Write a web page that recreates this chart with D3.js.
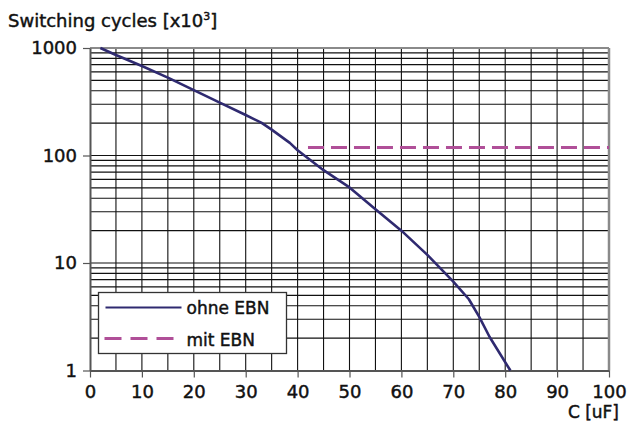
<!DOCTYPE html>
<html>
<head>
<meta charset="utf-8">
<script src="https://cdn.jsdelivr.net/npm/d3@7"></script>
<style>
  body { margin: 0; background: #fff; }
  svg text { font-family: "DejaVu Sans", sans-serif; font-weight: normal; fill: #111; stroke: #111; stroke-width: 0.45px; }
</style>
</head>
<body>
<div id="chart"></div>
<script>
// capacitance [uF] vs switching cycles [x10^3]
var ohneC = [2, 5, 10, 15, 20, 25, 30, 33, 35, 38.5, 40, 45, 50, 55, 60, 65, 70, 73, 75, 77, 81];
var ohneV = [1000, 860, 680, 530, 405, 310, 238, 202, 174, 131, 112, 73, 50.5, 31.6, 20, 11.9, 6.7, 4.6, 3.15, 2.05, 1];
var mitC = [42, 100];
var mitV = [119, 119];
var xTicks = [0, 10, 20, 30, 40, 50, 60, 70, 80, 90, 100];
var yTicks = [1, 10, 100, 1000];

var width = 633, height = 428;
var margin = {top: 48, right: 24, bottom: 58, left: 90};
var w = 609 - margin.left, h = 370.5 - margin.top;

var svg = d3.select("#chart").append("svg")
    .attr("width", width)
    .attr("height", height);

var g = svg.append("g")
    .attr("transform", "translate(" + margin.left + "," + margin.top + ")");

var x = d3.scaleLinear().domain([0, 100]).range([0, w]);
var y = d3.scaleLog().domain([1, 1000]).range([h, 0]);

// grid: vertical every 5, horizontal log minors
var vGrid = d3.range(5, 100, 5);
g.selectAll("line.vgrid").data(vGrid).enter().append("line")
    .attr("class", "vgrid")
    .attr("x1", function(d) { return x(d); })
    .attr("x2", function(d) { return x(d); })
    .attr("y1", 0).attr("y2", h)
    .attr("stroke", "#111").attr("stroke-width", 1.1);

var hGrid = [];
[1, 10, 100].forEach(function(dec) {
    for (var k = 1; k < 10; k++) hGrid.push(dec * k);
});
g.selectAll("line.hgrid").data(hGrid.filter(function(d) { return d > 1; })).enter().append("line")
    .attr("class", "hgrid")
    .attr("x1", 0).attr("x2", w)
    .attr("y1", function(d) { return y(d); })
    .attr("y2", function(d) { return y(d); })
    .attr("stroke", "#111").attr("stroke-width", 1.1);

// frame
g.append("line").attr("x1", 0).attr("x2", w).attr("y1", 0).attr("y2", 0)
    .attr("stroke", "#8a8a8a").attr("stroke-width", 2);
g.append("line").attr("x1", w).attr("x2", w).attr("y1", 0).attr("y2", h)
    .attr("stroke", "#8a8a8a").attr("stroke-width", 2.5);

// axes
var xAxis = d3.axisBottom(x).tickValues(xTicks).tickSize(7).tickSizeOuter(0).tickPadding(8);
var yAxis = d3.axisLeft(y).tickValues(yTicks).tickSize(7).tickSizeOuter(0).tickPadding(6)
    .tickFormat(d3.format("d"));

var gx = g.append("g").attr("transform", "translate(0," + h + ")").call(xAxis);
var gy = g.append("g").call(yAxis);

[gx, gy].forEach(function(a) {
    a.select(".domain").attr("stroke", "#555").attr("stroke-width", 2);
    a.selectAll(".tick line").attr("stroke", "#555").attr("stroke-width", 1.2);
    a.selectAll(".tick text").style("font-size", "18px").attr("fill", "#111");
});
gx.selectAll(".tick text").attr("dy", "0.72em");

// series
var line = d3.line()
    .x(function(d) { return x(d[0]); })
    .y(function(d) { return y(d[1]); });

g.append("path")
    .datum(d3.zip(mitC, mitV))
    .attr("d", line)
    .attr("fill", "none")
    .attr("stroke", "#b04f98")
    .attr("stroke-width", 3)
    .attr("stroke-dasharray", "16,7");

g.append("path")
    .datum(d3.zip(ohneC, ohneV))
    .attr("d", line)
    .attr("fill", "none")
    .attr("stroke", "#2f2a70")
    .attr("stroke-width", 2.6)
    .attr("stroke-linejoin", "round");

// legend
var lg = svg.append("g").attr("transform", "translate(98.5,292.5)");
lg.append("rect")
    .attr("width", 188).attr("height", 61)
    .attr("fill", "#fff").attr("stroke", "#333").attr("stroke-width", 1.3);
lg.append("line").attr("x1", 7).attr("x2", 83).attr("y1", 15).attr("y2", 15)
    .attr("stroke", "#2f2a70").attr("stroke-width", 2.2);
lg.append("line").attr("x1", 6).attr("x2", 80).attr("y1", 46).attr("y2", 46)
    .attr("stroke", "#b04f98").attr("stroke-width", 3).attr("stroke-dasharray", "17,9");
lg.append("text").attr("x", 88).attr("y", 21).style("font-size", "17px").text("ohne EBN");
lg.append("text").attr("x", 88).attr("y", 53).style("font-size", "17px").text("mit EBN");

// titles
var t = svg.append("text").attr("x", 8).attr("y", 27).style("font-size", "18px");
t.append("tspan").text("Switching cycles [x10");
t.append("tspan").attr("dy", -7).style("font-size", "11px").text("3");
t.append("tspan").attr("dy", 7).text("]");

svg.append("text")
    .attr("x", 619).attr("y", 418)
    .attr("text-anchor", "end")
    .style("font-size", "17px")
    .text("C [uF]");
</script>
</body>
</html>
